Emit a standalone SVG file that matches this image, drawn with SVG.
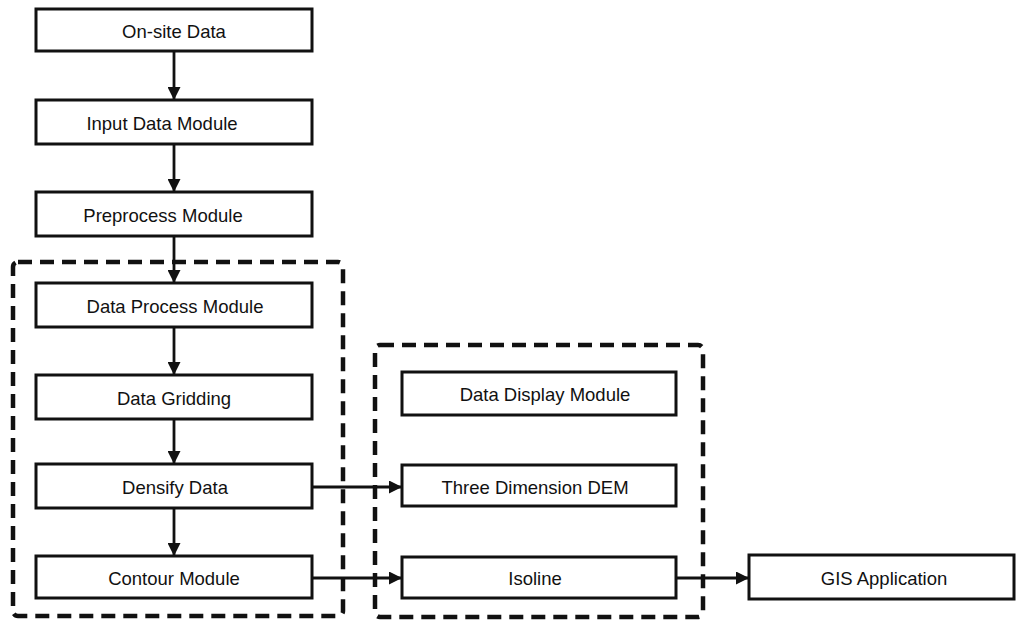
<svg xmlns="http://www.w3.org/2000/svg" width="1016" height="620" viewBox="0 0 1016 620">
<defs>
<style>
.box{fill:#fff;stroke:#111;stroke-width:3}
.lbl{font-family:"Liberation Sans",Arial,sans-serif;font-size:18.5px;fill:#111;text-anchor:middle;dominant-baseline:central}
.grp{fill:none;stroke:#111;stroke-width:4.5;stroke-dasharray:14 8}
.con{fill:none;stroke:#111;stroke-width:2.8}
</style>
<marker id="ah" markerWidth="13" markerHeight="13" viewBox="0 0 13 13" refX="13" refY="6.5" orient="auto" markerUnits="userSpaceOnUse">
<path d="M0,0 L13,6.5 L0,13 Z" fill="#111"/>
</marker>
</defs>
<rect width="1016" height="620" fill="#fff"/>
<g id="group-left"><rect class="grp" x="13" y="262" width="330" height="354" rx="5"/></g>
<g id="group-right"><rect class="grp" x="375" y="345" width="328" height="272" rx="5"/></g>
<g id="connectors">
<line class="con" x1="174" y1="51" x2="174" y2="100" marker-end="url(#ah)"/>
<line class="con" x1="174" y1="144" x2="174" y2="192" marker-end="url(#ah)"/>
<line class="con" x1="174" y1="236" x2="174" y2="283" marker-end="url(#ah)"/>
<line class="con" x1="174" y1="327" x2="174" y2="375" marker-end="url(#ah)"/>
<line class="con" x1="174" y1="419" x2="174" y2="464" marker-end="url(#ah)"/>
<line class="con" x1="174" y1="508" x2="174" y2="556" marker-end="url(#ah)"/>
<line class="con" x1="312" y1="487" x2="402" y2="487" marker-end="url(#ah)"/>
<line class="con" x1="312" y1="578" x2="402" y2="578" marker-end="url(#ah)"/>
<line class="con" x1="676" y1="578" x2="749" y2="578" marker-end="url(#ah)"/>
</g>
<g id="n-onsite"><rect class="box" x="36" y="9" width="276" height="42"/><text class="lbl" x="174" y="31">On-site Data</text></g>
<g id="n-input"><rect class="box" x="36" y="100" width="276" height="44"/><text class="lbl" x="162" y="123">Input Data Module</text></g>
<g id="n-preprocess"><rect class="box" x="36" y="192" width="276" height="44"/><text class="lbl" x="163" y="215">Preprocess Module</text></g>
<g id="n-dataprocess"><rect class="box" x="36" y="283" width="276" height="44"/><text class="lbl" x="175" y="306">Data Process Module</text></g>
<g id="n-gridding"><rect class="box" x="36" y="375" width="276" height="44"/><text class="lbl" x="174" y="398">Data Gridding</text></g>
<g id="n-densify"><rect class="box" x="36" y="464" width="276" height="44"/><text class="lbl" x="175" y="487">Densify Data</text></g>
<g id="n-contour"><rect class="box" x="36" y="556" width="276" height="42"/><text class="lbl" x="174" y="578">Contour Module</text></g>
<g id="n-display"><rect class="box" x="402" y="372" width="274" height="43"/><text class="lbl" x="545" y="394">Data Display Module</text></g>
<g id="n-dem"><rect class="box" x="402" y="465" width="274" height="41"/><text class="lbl" x="535" y="487">Three Dimension DEM</text></g>
<g id="n-isoline"><rect class="box" x="402" y="557" width="274" height="41"/><text class="lbl" x="535" y="578">Isoline</text></g>
<g id="n-gis"><rect class="box" x="749" y="555" width="265" height="44"/><text class="lbl" x="884" y="578">GIS Application</text></g>
</svg>
